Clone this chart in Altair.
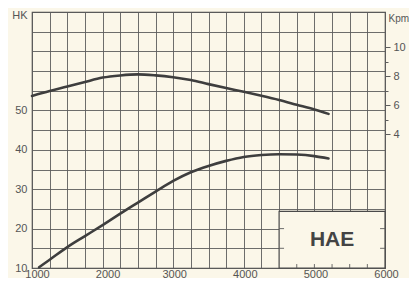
import altair as alt
import pandas as pd

# ---- data ----
rpm_power = [1100, 1250, 1500, 1750, 2000, 2250, 2500, 2750, 3000, 3250, 3500,
             3750, 4000, 4250, 4500, 4750, 5000, 5200]
hk_power = [10.2, 12.1, 15.3, 18.1, 20.9, 23.8, 26.6, 29.4, 32.1, 34.3, 35.9,
            37.2, 38.2, 38.7, 38.9, 38.8, 38.4, 37.8]

rpm_torque = [1000, 1250, 1500, 1750, 2000, 2250, 2500, 2750, 3000, 3250, 3500,
              3750, 4000, 4250, 4500, 4750, 5000, 5200]
kpm_torque = [6.64, 6.98, 7.28, 7.60, 7.90, 8.05, 8.12, 8.05, 7.92, 7.73, 7.45,
              7.18, 6.92, 6.65, 6.36, 6.03, 5.70, 5.40]

x_grid = [1000 + 250 * i for i in range(21)]
x_labels = [1000, 2000, 3000, 4000, 5000, 6000]
hk_grid = [10 + 5 * i for i in range(14)]
hk_labels = [10, 20, 30, 40, 50]
kpm_ticks = [4, 5, 6, 7, 8, 9, 10]
kpm_labels = [4, 6, 8, 10]
badge_text = "HAE"
badge_rpm = [4500, 6000]
badge_hk = [10, 24.4]

# ---- styles ----
BG = "#fbf7e9"
INK = "#3e3e3e"
GRID = "#5c5c5c"
TXT = "#555555"

power_df = pd.DataFrame({"rpm": rpm_power, "hk": hk_power})
torque_df = pd.DataFrame({"rpm": rpm_torque, "kpm": kpm_torque})
box_df = pd.DataFrame({"rpm": [badge_rpm[0]], "rpm2": [badge_rpm[1]],
                       "hk": [badge_hk[0]], "hk2": [badge_hk[1]]})
text_df = pd.DataFrame({"rpm": [sum(badge_rpm) / 2], "hk": [sum(badge_hk) / 2],
                        "t": [badge_text]})

stub_rows = []
for v in x_grid:
    if badge_rpm[0] < v < badge_rpm[1]:
        stub_rows.append({"rpm": v, "rpm2": v, "hk": badge_hk[0], "hk2": badge_hk[0] + 1.0})
for v in hk_grid:
    if badge_hk[0] < v < badge_hk[1]:
        stub_rows.append({"rpm": badge_rpm[0], "rpm2": badge_rpm[0] + 70, "hk": v, "hk2": v})
        stub_rows.append({"rpm": badge_rpm[1] - 70, "rpm2": badge_rpm[1], "hk": v, "hk2": v})
stub_df = pd.DataFrame(stub_rows)

x_scale = alt.Scale(domain=[1000, 6000], nice=False, zero=False)
hk_scale = alt.Scale(domain=[10, 75], nice=False, zero=False)
kpm_scale = alt.Scale(domain=[-5.22, 12.42], nice=False, zero=False)

x_axis = alt.Axis(values=x_grid, format="d",
                  labelExpr=f"indexof({x_labels}, datum.value) >= 0 ? datum.label : ''",
                  ticks=False, domain=False, grid=True, title=None,
                  labelBaseline="alphabetic", labelPadding=9,
                  labelOffset={"condition": {"test": "datum.value <= 2000", "value": 5},
                               "value": 1},
                  labelFlush=False, labelOverlap=False)
hk_axis = alt.Axis(values=hk_grid, format="d",
                   labelExpr=f"indexof({hk_labels}, datum.value) >= 0 ? datum.label : ''",
                   ticks=False, domain=False, grid=True, title="HK",
                   titleAngle=0, titleAlign="right", titleBaseline="middle",
                   titleX=-5, titleY=3.5, labelPadding=5, labelFlush=False,
                   labelOverlap=False)
kpm_axis = alt.Axis(values=kpm_ticks, format="d", orient="right",
                    labelExpr=f"indexof({kpm_labels}, datum.value) >= 0 ? datum.label : ''",
                    ticks=True,
                    tickSize={"condition": {"test": f"indexof({kpm_labels}, datum.value) >= 0",
                                            "value": 5}, "value": 3},
                    tickColor=GRID, domain=False, grid=False, title="Kpm",
                    titleAngle=0, titleAlign="left", titleBaseline="middle",
                    titleX=3, titleY=6.5, titleFontSize=10, labelPadding=3,
                    labelFlush=False, labelOverlap=False)

X = alt.X("rpm:Q", scale=x_scale, axis=x_axis)
Y = alt.Y("hk:Q", scale=hk_scale, axis=hk_axis)

power = alt.Chart(power_df).mark_line(
    color=INK, strokeWidth=2.6, interpolate="monotone", strokeCap="round"
).encode(x=X, y=Y)

box = alt.Chart(box_df).mark_rect(fill=BG, stroke="#4a4a4a", strokeWidth=1.2).encode(
    x=X, x2="rpm2:Q", y=Y, y2="hk2:Q")

stubs = alt.Chart(stub_df).mark_rule(color=GRID, strokeWidth=0.9).encode(
    x=X, x2="rpm2:Q", y=Y, y2="hk2:Q")

label = alt.Chart(text_df).mark_text(
    font="Liberation Sans", fontSize=21, fontWeight="bold", color="#444444",
    align="center", baseline="middle"
).encode(x=X, y=Y, text="t:N")

left = alt.layer(power, box, stubs, label)

torque = alt.Chart(torque_df).mark_line(
    color=INK, strokeWidth=2.6, interpolate="monotone", strokeCap="round"
).encode(x=X, y=alt.Y("kpm:Q", scale=kpm_scale, axis=kpm_axis))

chart = alt.layer(left, torque).resolve_scale(y="independent").properties(
    width=353, height=256,
    padding={"left": 24, "top": 4, "right": 24, "bottom": 10},
    autosize=alt.AutoSizeParams(type="none"),
).configure(background=BG).configure_view(
    stroke="#4a4a4a", strokeWidth=1.2
).configure_axis(
    gridColor=GRID, gridWidth=0.9, gridOpacity=1,
    labelFont="Liberation Sans", labelFontSize=11, labelColor=TXT,
    titleFont="Liberation Sans", titleFontSize=11, titleColor=TXT,
    titleFontWeight="normal",
)

chart.save("out.html", embed_options={"renderer": "svg", "actions": False})
